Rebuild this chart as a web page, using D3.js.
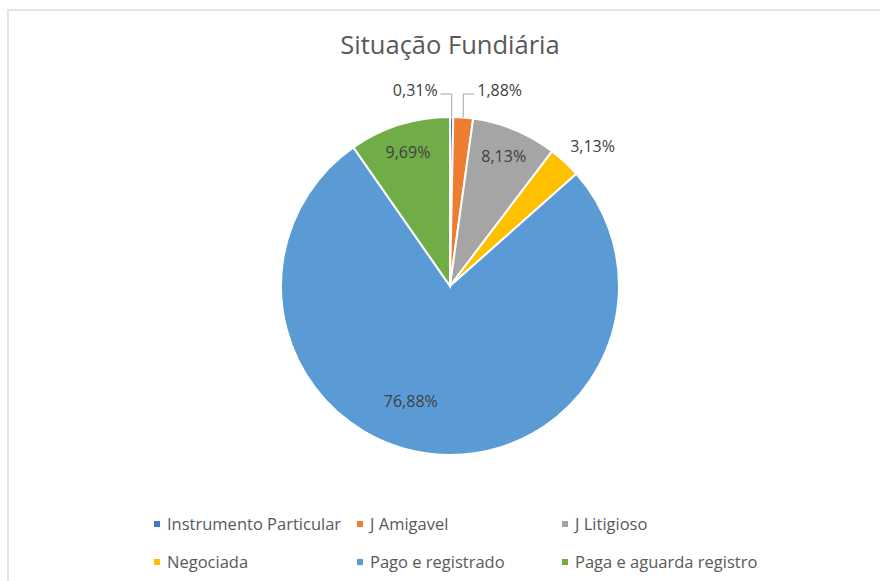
<!DOCTYPE html>
<html>
<head>
<meta charset="utf-8">
<script src="https://cdn.jsdelivr.net/npm/d3@7"></script>
<style>
  body { margin: 0; background: #fff; }
  svg { display: block; font-family: "Open Sans", Lato, sans-serif; }
</style>
</head>
<body>
<div id="chart"></div>
<script>
// Situação Fundiária - pie chart

const categories = ["Instrumento Particular", "J Amigavel", "J Litigioso", "Negociada", "Pago e registrado", "Paga e aguarda registro"];
const values = [0.31, 1.88, 8.13, 3.13, 76.88, 9.69];
const colors = ["#4472C4", "#ED7D31", "#A5A5A5", "#FFC000", "#5B9BD5", "#70AD47"];
const title = "Situação Fundiária";

// label placement, roughly like Excel "best fit"
const labelMode = ["leaderLeft", "leaderRight", "inside", "outside", "inside", "inside"];

const width = 880, height = 581;
const cx = 450, cy = 286, radius = 169;

const svg = d3.select("#chart")
    .append("svg")
    .attr("width", width)
    .attr("height", height);

// chart area border (runs off the right and bottom of the shot)
svg.append("rect")
    .attr("x", 8)
    .attr("y", 10)
    .attr("width", 900)
    .attr("height", 600)
    .attr("fill", "none")
    .attr("stroke", "#dcdcdc")
    .attr("stroke-width", 1.5);

// Title
svg.append("text")
    .attr("x", cx)
    .attr("y", 54)
    .attr("text-anchor", "middle")
    .attr("fill", "#595959")
    .attr("font-size", "25.5px")
    .text(title);

const data = categories.map((c, i) => ({ name: c, value: values[i], color: colors[i], mode: labelMode[i] }));

const pie = d3.pie().sort(null).value(d => d.value);
const arcs = pie(data);

const arc = d3.arc().innerRadius(0).outerRadius(radius);

const g = svg.append("g").attr("transform", `translate(${cx},${cy})`);

g.selectAll("path")
    .data(arcs)
    .enter()
    .append("path")
    .attr("d", arc)
    .attr("fill", d => d.data.color)
    .attr("stroke", "#fff")
    .attr("stroke-width", 2);

const fmt = v => v.toFixed(2).replace(".", ",") + "%";
const mid = d => (d.startAngle + d.endAngle) / 2;
const polar = (a, r) => [Math.sin(a) * r, -Math.cos(a) * r];

arcs.forEach(d => {
    const a = mid(d);
    let tx, ty, anchor = "middle";
    if (d.data.mode === "inside") {
        // big slice label sits off its mid angle a bit
        const shift = d.data.value > 50 ? 0.21 : 0;
        [tx, ty] = polar(a + shift, radius * (d.data.value > 50 ? 0.72 : 0.83));
    } else if (d.data.mode === "outside") {
        [tx, ty] = polar(a + 0.05, radius * 1.18);
    } else {
        const [ex, ey] = polar(a, radius);
        const ly = -radius - 23;
        const dir = d.data.mode === "leaderLeft" ? -1 : 1;
        const lx = ex + dir * 11;
        g.append("polyline")
            .attr("points", [[ex, ey], [ex, ly], [lx, ly]].map(p => p.join(",")).join(" "))
            .attr("fill", "none")
            .attr("stroke", "#a6a6a6")
            .attr("stroke-width", 1);
        tx = lx + dir * 3;
        ty = ly - 4;
        anchor = dir < 0 ? "end" : "start";
    }
    g.append("text")
        .attr("x", tx)
        .attr("y", ty)
        .attr("dy", "0.35em")
        .attr("text-anchor", anchor)
        .attr("fill", "#404040")
        .attr("font-size", "16px")
        .text(fmt(d.data.value));
});

// Legend: 3 columns x 2 rows
const colX = [154, 357, 562];
const rowY = [524, 562];

const legend = svg.append("g")
    .selectAll("g")
    .data(data)
    .enter()
    .append("g")
    .attr("transform", (d, i) => `translate(${colX[i % 3]},${rowY[Math.floor(i / 3)]})`);

legend.append("rect")
    .attr("x", 0)
    .attr("y", -3)
    .attr("width", 6)
    .attr("height", 6)
    .attr("fill", d => d.color);

legend.append("text")
    .attr("x", 13)
    .attr("y", 0)
    .attr("dy", "0.35em")
    .attr("fill", "#595959")
    .attr("font-size", "16.5px")
    .text(d => d.name);
</script>
</body>
</html>
